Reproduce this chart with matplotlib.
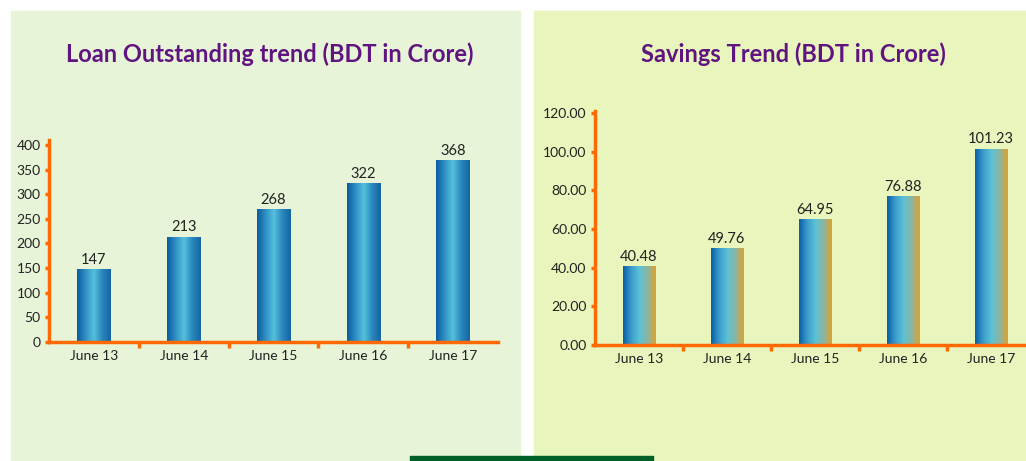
import numpy as np
import matplotlib
matplotlib.use("Agg")
import matplotlib.pyplot as plt
from matplotlib.patches import Rectangle
from matplotlib.colors import LinearSegmentedColormap
from matplotlib.ticker import FixedLocator

plt.rcParams['font.family'] = ['Lato', 'DejaVu Sans']

years = ['June 13', 'June 14', 'June 15', 'June 16', 'June 17']
loan = [147, 213, 268, 322, 368]
savings = [40.48, 49.76, 64.95, 76.88, 101.23]
loan_ticks = [0, 50, 100, 150, 200, 250, 300, 350, 400]
savings_ticks = [0, 20, 40, 60, 80, 100, 120]

W, H = 1026, 461
ORANGE = '#ff6a00'
PURPLE = '#5f1480'
TXT = '#222222'

loan_cmap = LinearSegmentedColormap.from_list(
    'loan', ['#0a5c9e', '#2f8fc4', '#55c0dc', '#2a86bd', '#14659f'])
sav_cmap = LinearSegmentedColormap.from_list(
    'sav', ['#0a5ca3', '#3a9ccc', '#5cc2d6', '#8cb4a0', '#e3a02a'])


def px(x0, y0, w, h):
    # pixel box (top-left origin) -> figure fraction
    return [x0 / W, 1 - (y0 + h) / H, w / W, h / H]


fig = plt.figure(figsize=(W / 100, H / 100), dpi=100)
fig.patch.set_facecolor('white')

# panel backgrounds
fig.patches.append(Rectangle((11 / W, 0), (520 - 11) / W, 1 - 11 / H,
                             transform=fig.transFigure, color='#e7f4d8', zorder=-2))
fig.patches.append(Rectangle((534 / W, 0), (W - 534) / W, 1 - 11 / H,
                             transform=fig.transFigure, color='#e8f5bc', zorder=-2))
fig.patches.append(Rectangle((410 / W, 0), (653 - 410) / W, 5 / H,
                             transform=fig.transFigure, color='#006028', zorder=-1))


def draw_panel(rect, values, ticks, ymax, cmap, fmt, tickfmt, title, title_x):
    ax = fig.add_axes(rect)
    ax.set_zorder(3)
    ax.set_facecolor('none')
    x = np.arange(len(values))
    bars = ax.bar(x, values, width=0.37, color='none', zorder=2)
    grad = np.linspace(0, 1, 256).reshape(1, -1)
    for b in bars:
        bx, bw, bh = b.get_x(), b.get_width(), b.get_height()
        ax.imshow(grad, cmap=cmap, aspect='auto', zorder=2,
                  extent=(bx, bx + bw, 0, bh), interpolation='bilinear')
    ax.bar_label(bars, labels=[fmt.format(v) for v in values], padding=2,
                 fontsize=10.5, color=TXT)
    ax.set_xlim(-0.5, 4.5)
    ax.set_ylim(0, ymax)
    ax.set_xticks(x)
    ax.set_xticklabels(years, fontsize=10, color=TXT)
    ax.xaxis.set_minor_locator(FixedLocator(x[:-1] + 0.5))
    ax.tick_params(axis='x', which='major', length=0, pad=6)
    ax.tick_params(axis='x', which='minor', length=4, width=2.5, color=ORANGE, direction='out')
    ax.set_yticks(ticks)
    ax.set_yticklabels([tickfmt.format(t) for t in ticks], fontsize=10, color=TXT)
    ax.tick_params(axis='y', length=3, width=2.5, color=ORANGE, direction='out', pad=3)
    for s in ['top', 'right']:
        ax.spines[s].set_visible(False)
    for s in ['left', 'bottom']:
        ax.spines[s].set_color(ORANGE)
        ax.spines[s].set_linewidth(2.5)
        ax.spines[s].set_capstyle('projecting')
    fig.text(title_x / W, 1 - 62 / H, title, ha='center', va='baseline',
             fontsize=17, fontweight='bold', color=PURPLE, zorder=4)
    return ax


draw_panel(px(49, 140, 449, 202), loan, loan_ticks, 410, loan_cmap,
           '{:d}', '{:d}', 'Loan Outstanding trend (BDT in Crore)', 270)
draw_panel(px(595, 111, 440, 234), savings, savings_ticks, 121, sav_cmap,
           '{:.2f}', '{:.2f}', 'Savings Trend (BDT in Crore)', 793)

fig.savefig('out.png', dpi=100)
